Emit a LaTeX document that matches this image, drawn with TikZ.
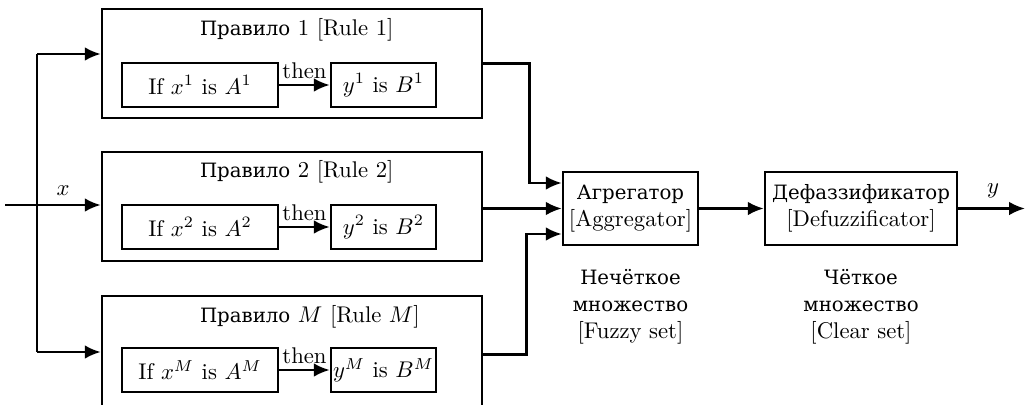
\documentclass[tikz,border=0pt]{standalone}
\usepackage{fontspec}
\newfontfamily\cyrfont{DejaVu Serif}[Scale=0.87]
\usetikzlibrary{arrows.meta,calc}
\newcommand\Cy[1]{{\cyrfont #1}}
\def\pxu{0.4405pt}
\begin{document}
\begin{tikzpicture}[x=0.4405pt,y=-0.4405pt,
  blk/.style={draw, line width=1.1pt, inner sep=0pt, align=center},
  rulebox/.style={blk, minimum width=380*\pxu, minimum height=109*\pxu},
  ifbox/.style={blk, minimum width=156*\pxu, minimum height=44*\pxu},
  thbox/.style={blk, minimum width=105*\pxu, minimum height=44*\pxu},
  bigbox/.style={blk, minimum height=73*\pxu},
  arr/.style={line width=1.1pt, -{Latex[length=7pt,width=6pt]}},
  ln/.style={line width=1.1pt}]
\useasboundingbox (0,0) rectangle (1031,404);
\clip (0,0) rectangle (1031,404);

% rule boxes
\node[rulebox] (r1) at (292,63.5) {};
\node[rulebox] (r2) at (292,206.5) {};
\node[rulebox, minimum height=116*\pxu] (rM) at (292,354) {};

\node[anchor=west] (t1) at (192,30) {\Cy{Правило} 1 [Rule 1]};
\node[anchor=west] (t2) at (192,172) {\Cy{Правило} 2 [Rule 2]};
\node[anchor=west] (tM) at (192,317) {\Cy{Правило} $M$ [Rule $M$]};

\node[ifbox] (if1) at (200,85) {If $x^1$ is $A^1$};
\node[thbox] (th1) at (383.5,85) {$y^1$ is $B^1$};
\node[ifbox] (if2) at (200,227) {If $x^2$ is $A^2$};
\node[thbox] (th2) at (383.5,227) {$y^2$ is $B^2$};
\node[ifbox] (ifM) at (200,370) {If $x^M$ is $A^M$};
\node[thbox] (thM) at (383.5,370) {$y^M$ is $B^M$};

\draw[arr] (if1) -- node[above, inner sep=2pt] (then1) {then} (th1);
\draw[arr] (if2) -- node[above, inner sep=2pt] (then2) {then} (th2);
\draw[arr] (ifM) -- node[above, inner sep=2pt] (thenM) {then} (thM);

% aggregator and defuzzificator
\node[bigbox, minimum width=135*\pxu] (agg) at (630.5,208.5)
  {\Cy{Агрегатор}\\{[Aggregator]}};
\node[bigbox, minimum width=192*\pxu] (def) at (861,208.5)
  {\Cy{Дефаззификатор}\\{[Defuzzificator]}};

\node[align=center] (fz) at (630.5,307)
  {\Cy{Нечёткое}\\\Cy{множество}\\{[Fuzzy set]}};
\node[align=center] (cl) at (861,307)
  {\Cy{Чёткое}\\\Cy{множество}\\{[Clear set]}};

% input side
\coordinate (xin) at (5,205);
\coordinate (b1) at (37,54);
\coordinate (bM) at (37,352);
\draw[arr] (xin) -- (xin -| r2.west);
\draw[ln] (b1) -- (bM);
\draw[arr] (b1) -- (b1 -| r1.west);
\draw[arr] (bM) -- (bM -| rM.west);
\node (xl) at (63,191) {$x$};

% outputs of rules
\draw[arr] (r1.east) -- ++(46,0) |- ($(agg.west)+(0,-25.5)$);
\draw[arr] (agg.west -| r2.east) -- (agg.west);
\draw[arr] ([yshift=-0.3pt]rM.east) -- ++(43,0) |- ($(agg.west)+(0,25.5)$);

\draw[arr] (agg) -- (def);
\coordinate (yout) at (1025,208.5);
\draw[arr] (def) -- (yout);
\node (yl) at (993,191) {$y$};
\end{tikzpicture}
\end{document}
